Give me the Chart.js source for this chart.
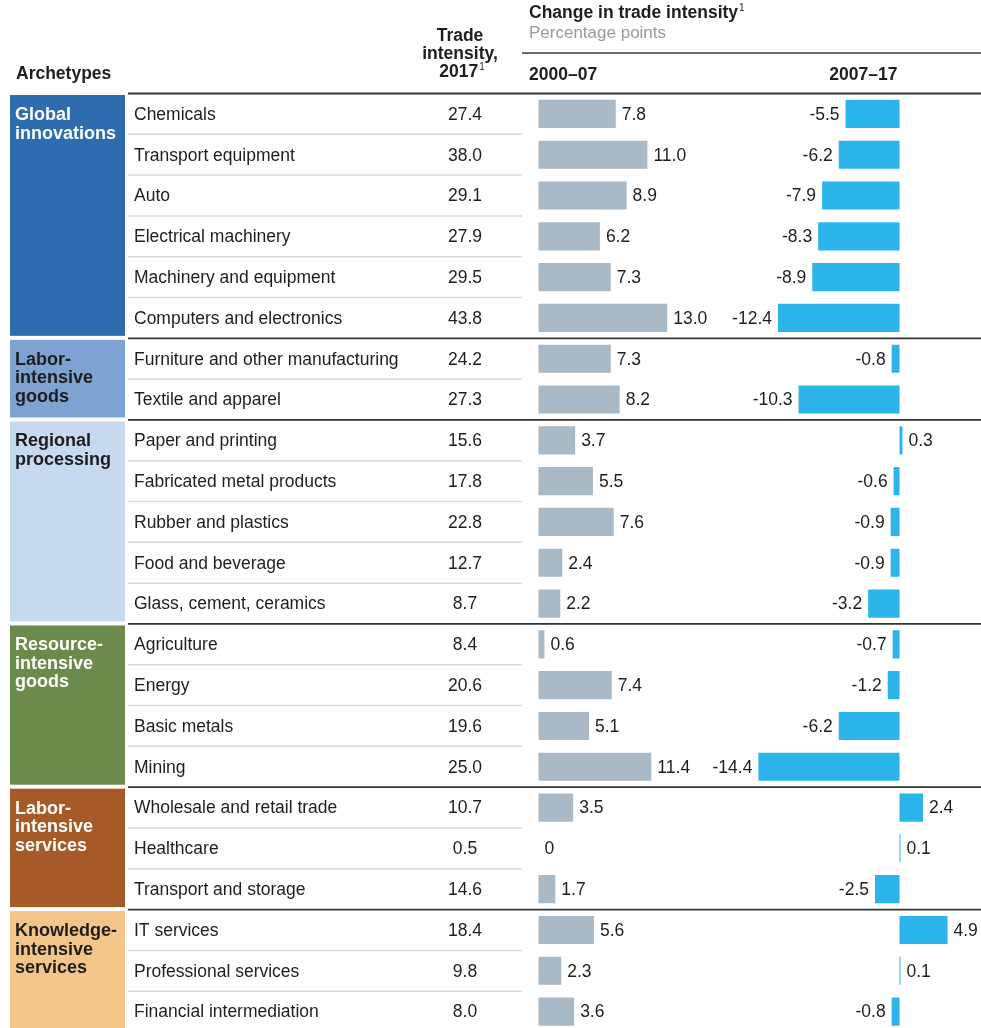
<!DOCTYPE html>
<html>
<head>
<meta charset="utf-8">
<script src="https://cdn.jsdelivr.net/npm/chart.js@4.4.1/dist/chart.umd.min.js"></script>
<style>
  html, body { margin: 0; padding: 0; background: #fff; overflow: hidden; }
  #wrap { position: relative; width: 981px; height: 1032px; }
</style>
</head>
<body>
<div id="wrap"><canvas id="chart"></canvas></div>
<script>
// Industries, top to bottom
const industries = [
  "Chemicals", "Transport equipment", "Auto", "Electrical machinery",
  "Machinery and equipment", "Computers and electronics",
  "Furniture and other manufacturing", "Textile and apparel",
  "Paper and printing", "Fabricated metal products", "Rubber and plastics",
  "Food and beverage", "Glass, cement, ceramics",
  "Agriculture", "Energy", "Basic metals", "Mining",
  "Wholesale and retail trade", "Healthcare", "Transport and storage",
  "IT services", "Professional services", "Financial intermediation"
];
const tradeIntensity2017 = [27.4, 38.0, 29.1, 27.9, 29.5, 43.8, 24.2, 27.3, 15.6, 17.8, 22.8, 12.7, 8.7, 8.4, 20.6, 19.6, 25.0, 10.7, 0.5, 14.6, 18.4, 9.8, 8.0];
const change2000to07 = [7.8, 11.0, 8.9, 6.2, 7.3, 13.0, 7.3, 8.2, 3.7, 5.5, 7.6, 2.4, 2.2, 0.6, 7.4, 5.1, 11.4, 3.5, 0, 1.7, 5.6, 2.3, 3.6];
const change2007to17 = [-5.5, -6.2, -7.9, -8.3, -8.9, -12.4, -0.8, -10.3, 0.3, -0.6, -0.9, -0.9, -3.2, -0.7, -1.2, -6.2, -14.4, 2.4, 0.1, -2.5, 4.9, 0.1, -0.8];

// Archetype groups (label lines) and how many industries each covers
const archetypes = [
  ["Global", "innovations"],
  ["Labor-", "intensive", "goods"],
  ["Regional", "processing"],
  ["Resource-", "intensive", "goods"],
  ["Labor-", "intensive", "services"],
  ["Knowledge-", "intensive", "services"]
];
const groupSizes = [6, 2, 5, 4, 3, 3];

// Styling
const groupColors = ["#2D6CAF", "#7EA2D2", "#C6D9EF", "#6C8A4C", "#A55A27", "#F4C589"];
const groupTextColors = ["#ffffff", "#1d1d1d", "#1d1d1d", "#ffffff", "#ffffff", "#1d1d1d"];
const FONT = '"Liberation Sans", Arial, Helvetica, sans-serif';
const TEXT = "#1e1e1e";

// Pixel layout of the two bar columns (zero line and px per point)
const AREA_LEFT = 128, AREA_RIGHT = 981;
const EARLY_ZERO = 538.5, EARLY_PX = 9.9;
const LATE_ZERO = 899.5, LATE_PX = 9.8;
const rangeFor = (zero, px) => {
  const min = -(zero - AREA_LEFT) / px;
  return { min, max: min + (AREA_RIGHT - AREA_LEFT) / px };
};
const earlyRange = rangeFor(EARLY_ZERO, EARLY_PX);
const lateRange = rangeFor(LATE_ZERO, LATE_PX);

// Draw a string with a small superscript "1" after it
function textWithNote(ctx, str, x, y, align, size) {
  ctx.textAlign = "left";
  const w = ctx.measureText(str).width;
  ctx.save();
  ctx.font = `${size}px ${FONT}`;
  const sw = ctx.measureText("1").width;
  ctx.restore();
  let start = x;
  if (align === "center") start = x - (w + sw + 1) / 2;
  if (align === "right") start = x - (w + sw + 1);
  ctx.fillText(str, start, y);
  ctx.save();
  ctx.font = `${size}px ${FONT}`;
  ctx.fillText("1", start + w + 1, y - 7);
  ctx.restore();
}

function hLine(ctx, x1, x2, y, color, width) {
  ctx.beginPath();
  ctx.strokeStyle = color;
  ctx.lineWidth = width;
  ctx.moveTo(x1, y);
  ctx.lineTo(x2, y);
  ctx.stroke();
}

// Table part: header, archetype boxes, row labels, trade intensity column, rules
const tablePlugin = {
  id: "tableLayout",
  beforeDatasetsDraw(chart) {
    const { ctx, scales } = chart;
    const y = scales.y;
    const rowH = y.getPixelForValue(1) - y.getPixelForValue(0);
    ctx.save();

    // Header
    ctx.fillStyle = TEXT;
    ctx.textBaseline = "alphabetic";
    ctx.font = `bold 17.5px ${FONT}`;
    ctx.textAlign = "left";
    ctx.fillText("Archetypes", 16, 79);
    ctx.textAlign = "center";
    ctx.fillText("Trade", 460, 41);
    ctx.fillText("intensity,", 460, 59);
    textWithNote(ctx, "2017", 462, 77, "center", 10);
    textWithNote(ctx, "Change in trade intensity", 529, 18, "left", 10);
    ctx.font = `17px ${FONT}`;
    ctx.fillStyle = "#9a9a9a";
    ctx.textAlign = "left";
    ctx.fillText("Percentage points", 529, 38);
    ctx.fillStyle = TEXT;
    ctx.font = `bold 17.5px ${FONT}`;
    ctx.fillText("2000\u201307", 529, 80);
    ctx.textAlign = "right";
    ctx.fillText("2007\u201317", scales.xLate.getPixelForValue(0) - 2, 80);
    hLine(ctx, 522, AREA_RIGHT, 53, "#3a3a3a", 1.3);

    // Archetype groups
    let start = 0;
    groupSizes.forEach((n, g) => {
      const top = y.getPixelForValue(start) - rowH / 2;
      const bottom = y.getPixelForValue(start + n - 1) + rowH / 2;
      ctx.fillStyle = groupColors[g];
      ctx.fillRect(10, top + 1.5, 115, bottom - top - 4);
      ctx.fillStyle = groupTextColors[g];
      ctx.font = `bold 18px ${FONT}`;
      ctx.textAlign = "left";
      ctx.textBaseline = "alphabetic";
      archetypes[g].forEach((line, k) => ctx.fillText(line, 15, top + 26.5 + k * 18.5));
      for (let i = start + 1; i < start + n; i++) {
        hLine(ctx, AREA_LEFT, 522, y.getPixelForValue(i) - rowH / 2, "#dadada", 1.5);
      }
      hLine(ctx, AREA_LEFT, AREA_RIGHT, top, "#333333", start === 0 ? 2.2 : 1.7);
      start += n;
    });

    // Industry names and 2017 trade intensity
    ctx.fillStyle = TEXT;
    ctx.font = `17.5px ${FONT}`;
    ctx.textBaseline = "middle";
    industries.forEach((name, i) => {
      const yy = y.getPixelForValue(i) + 1;
      ctx.textAlign = "left";
      ctx.fillText(name, 134, yy);
      ctx.textAlign = "center";
      ctx.fillText(tradeIntensity2017[i].toFixed(1), 465, yy);
    });
    ctx.restore();
  },

  // Value labels next to the bars
  afterDatasetsDraw(chart) {
    const { ctx } = chart;
    ctx.save();
    ctx.fillStyle = TEXT;
    ctx.font = `17.5px ${FONT}`;
    ctx.textBaseline = "middle";
    chart.data.datasets.forEach((ds, di) => {
      chart.getDatasetMeta(di).data.forEach((bar, i) => {
        const v = ds.data[i];
        const txt = v === 0 ? "0" : v.toFixed(1);
        if (v >= 0) {
          ctx.textAlign = "left";
          ctx.fillText(txt, bar.x + 6, bar.y + 1);
        } else {
          ctx.textAlign = "right";
          ctx.fillText(txt, bar.x - 6, bar.y + 1);
        }
      });
    });
    ctx.restore();
  }
};

new Chart(document.getElementById("chart"), {
  type: "bar",
  data: {
    labels: industries,
    datasets: [
      {
        label: "2000\u201307",
        data: change2000to07,
        xAxisID: "xEarly",
        backgroundColor: "#A9B9C5",
        grouped: false,
        barPercentage: 0.69,
        categoryPercentage: 1
      },
      {
        label: "2007\u201317",
        data: change2007to17,
        xAxisID: "xLate",
        backgroundColor: "#2BB5EA",
        grouped: false,
        barPercentage: 0.69,
        categoryPercentage: 1
      }
    ]
  },
  options: {
    indexAxis: "y",
    responsive: true,
    maintainAspectRatio: false,
    animation: false,
    layout: { padding: { left: AREA_LEFT, right: 0, top: 93.5, bottom: 0 } },
    plugins: {
      legend: { display: false },
      tooltip: { enabled: false },
      title: { display: false }
    },
    scales: {
      y: { type: "category", display: false, offset: true },
      xEarly: { type: "linear", position: "bottom", display: false, min: earlyRange.min, max: earlyRange.max },
      xLate: { type: "linear", position: "bottom", display: false, min: lateRange.min, max: lateRange.max }
    }
  },
  plugins: [tablePlugin]
});
</script>
</body>
</html>
